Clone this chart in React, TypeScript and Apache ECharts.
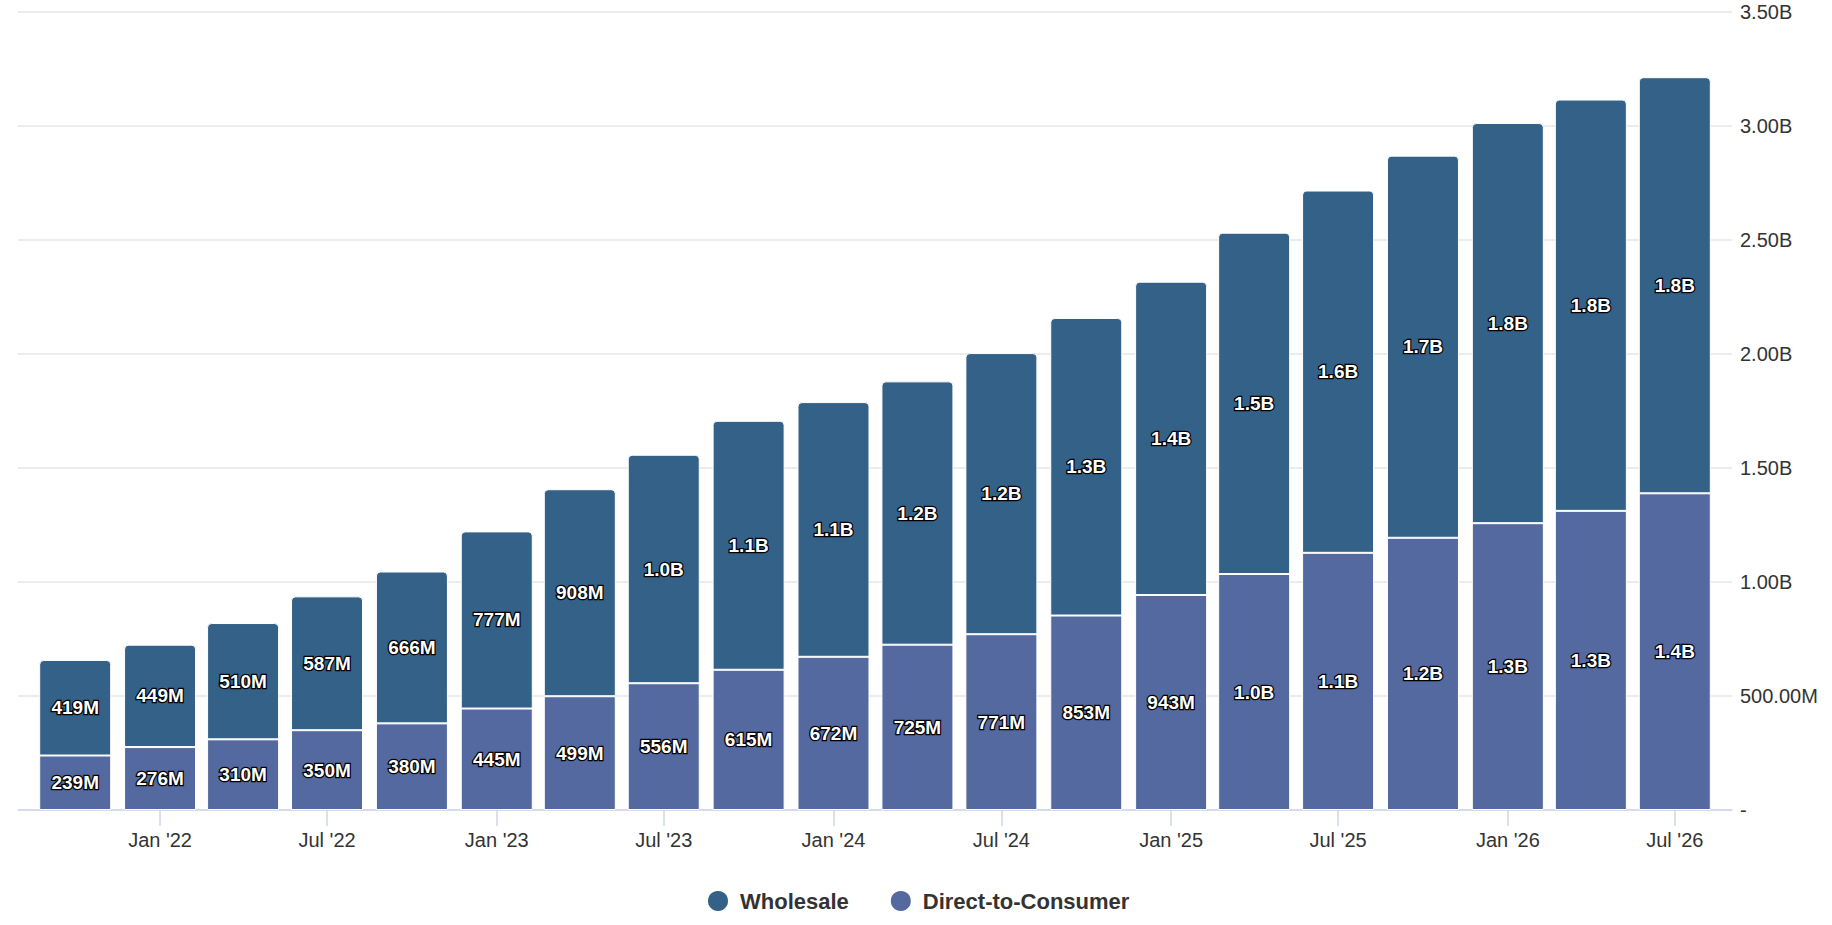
import React, { useEffect, useRef } from "react";
import * as echarts from "echarts";

const QUARTERS = [
  "2021-10", "2022-01", "2022-04", "2022-07", "2022-10",
  "2023-01", "2023-04", "2023-07", "2023-10",
  "2024-01", "2024-04", "2024-07", "2024-10",
  "2025-01", "2025-04", "2025-07", "2025-10",
  "2026-01", "2026-04", "2026-07",
];

const WHOLESALE = [
  419e6, 449e6, 510e6, 587e6, 666e6, 777e6, 908e6, 1.002e9, 1.092e9, 1.117e9,
  1.155e9, 1.233e9, 1.305e9, 1.374e9, 1.497e9, 1.589e9, 1.676e9, 1.755e9, 1.804e9, 1.825e9,
];

const DIRECT_TO_CONSUMER = [
  239e6, 276e6, 310e6, 350e6, 380e6, 445e6, 499e6, 556e6, 615e6, 672e6,
  725e6, 771e6, 853e6, 943e6, 1.035e9, 1.128e9, 1.194e9, 1.258e9, 1.312e9, 1.389e9,
];

const TICK_MONTHS = [
  "2022-01", "2022-07", "2023-01", "2023-07", "2024-01",
  "2024-07", "2025-01", "2025-07", "2026-01", "2026-07",
];

const AXIS_MIN = "2021-07-31";
const AXIS_MAX = "2026-09-01";

const MONTH_NAMES = ["Jan", "Feb", "Mar", "Apr", "May", "Jun", "Jul", "Aug", "Sep", "Oct", "Nov", "Dec"];

function toTs(s: string): number {
  const p = s.split("-").map(Number);
  return Date.UTC(p[0], p[1] - 1, p[2] || 1);
}

const FONT = "'Liberation Sans', Arial, Helvetica, sans-serif";
const GRID_LEFT = 18;
const GRID_RIGHT = 100;
const BAR_WIDTH = 72;

function fmtLabel(v: number): string {
  if (v >= 1e9) return (v / 1e9).toFixed(1) + "B";
  return Math.round(v / 1e6) + "M";
}

function fmtAxis(v: number): string {
  if (v === 0) return "-";
  if (v >= 1e9) return (v / 1e9).toFixed(2) + "B";
  return (v / 1e6).toFixed(2) + "M";
}

export default function App() {
  const ref = useRef<HTMLDivElement>(null);

  useEffect(() => {
    if (!ref.current) return;
    const chart = echarts.init(ref.current, undefined, { renderer: "svg" });
    const ticks = TICK_MONTHS.map(toTs);
    const xMin = toTs(AXIS_MIN);
    const xMax = toTs(AXIS_MAX);
    // ECharts widens a time axis that carries bars by the bar overflow; pre-shrink so the final extent equals [xMin, xMax]
    const axisLen = chart.getWidth() - GRID_LEFT - GRID_RIGHT;
    const k = 1 - BAR_WIDTH / axisLen;
    const mid = (xMin + xMax) / 2;
    const half = ((xMax - xMin) * k) / 2;
    const labelStyle = {
      show: true,
      position: "inside" as const,
      color: "#ffffff",
      fontFamily: FONT,
      fontSize: 19,
      fontWeight: "bold" as const,
      textBorderColor: "#000000",
      textBorderWidth: 2.5,
      formatter: (p: any) => fmtLabel(p.value[1]),
    };
    chart.setOption({
      animation: false,
      backgroundColor: "#ffffff",
      textStyle: { fontFamily: FONT },
      grid: { left: GRID_LEFT, right: GRID_RIGHT, top: 12, bottom: 115, containLabel: false },
      legend: {
        data: ["Wholesale", "Direct-to-Consumer"],
        left: 706,
        top: 889,
        padding: 0,
        icon: "circle",
        itemWidth: 22,
        itemHeight: 22,
        itemGap: 40,
        textStyle: {
          fontFamily: FONT,
          fontSize: 22,
          fontWeight: "bold",
          color: "#333333",
          padding: [0, 0, 0, 6],
        },
      },
      xAxis: [
        {
          type: "time",
          position: "bottom",
          min: mid - half,
          max: mid + half,
          axisLine: { show: false },
          axisTick: { show: false },
          axisLabel: { show: false },
          splitLine: { show: false },
        },
        {
          type: "value",
          position: "bottom",
          offset: 0,
          min: xMin,
          max: xMax,
          axisLine: { show: true, lineStyle: { color: "#ccd6eb", width: 1.5 } },
          axisTick: {
            show: true,
            length: 16,
            lineStyle: { color: "#ccd6eb", width: 1.5 },
            customValues: ticks,
          },
          axisLabel: {
            customValues: ticks,
            margin: 20,
            color: "#333333",
            fontFamily: FONT,
            fontSize: 20,
            formatter: (v: number) => {
              const d = new Date(v);
              return MONTH_NAMES[d.getUTCMonth()] + " '" + String(d.getUTCFullYear()).slice(2);
            },
          },
          splitLine: { show: false },
        },
      ],
      yAxis: {
        type: "value",
        position: "right",
        min: 0,
        max: 3.5e9,
        interval: 5e8,
        axisLine: { show: false },
        axisTick: { show: false },
        splitLine: { show: true, lineStyle: { color: "#e6e6e6", width: 1.5 } },
        axisLabel: {
          margin: 8,
          color: "#333333",
          fontFamily: FONT,
          fontSize: 20,
          padding: [6, 0, 0, 0],
          formatter: fmtAxis,
        },
      },
      series: [
        {
          name: "Direct-to-Consumer",
          type: "bar",
          xAxisIndex: 0,
          stack: "total",
          barWidth: BAR_WIDTH,
          data: QUARTERS.map((q, i) => [toTs(q), DIRECT_TO_CONSUMER[i]]),
          itemStyle: { color: "#54699f", borderColor: "#ffffff", borderWidth: 1 },
          label: labelStyle,
        },
        {
          name: "Wholesale",
          type: "bar",
          xAxisIndex: 0,
          stack: "total",
          barWidth: BAR_WIDTH,
          data: QUARTERS.map((q, i) => [toTs(q), WHOLESALE[i]]),
          itemStyle: {
            color: "#336187",
            borderColor: "#ffffff",
            borderWidth: 1,
            borderRadius: [4, 4, 0, 0],
          },
          label: labelStyle,
        },
      ],
    });
    return () => chart.dispose();
  }, []);

  return (
    <div
      ref={ref}
      style={{ position: "fixed", left: 0, top: 0, width: 1832, height: 925 }}
    />
  );
}
